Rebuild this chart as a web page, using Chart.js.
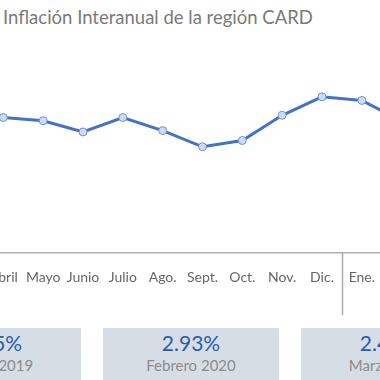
<!DOCTYPE html>
<html>
<head>
<meta charset="utf-8">
<script src="https://cdn.jsdelivr.net/npm/chart.js@4/dist/chart.umd.min.js"></script>
<style>
  html, body { margin: 0; padding: 0; background: #fff; overflow: hidden; }
  body { width: 380px; height: 380px; position: relative; font-family: Lato, "Open Sans", sans-serif; }
  #title { position: absolute; left: 3px; top: 6px; font-size: 18.5px; color: #7a7a7a; white-space: nowrap; }
  #c { position: absolute; left: -72px; top: 0; }
  .box { position: absolute; top: 328px; width: 176px; height: 60px; background: #d6dde5; text-align: center; }
  .box .v { position: absolute; left: 0; right: 0; top: 2px; font-size: 21px; color: #2a5cad; }
  .box .l { position: absolute; left: 0; right: 0; top: 28px; font-size: 15px; color: #8c8c8c; }
</style>
</head>
<body>
<div id="title">Inflación Interanual de la región CARD</div>
<canvas id="c" width="549" height="320"></canvas>
<div id="boxes"></div>
<script>
const months = ["Marzo", "Abril", "Mayo", "Junio", "Julio", "Ago.", "Sept.", "Oct.", "Nov.", "Dic.", "Ene.", "Feb.", "Marzo"];
const inflation = [3.05, 3.01, 2.94, 2.69, 3.01, 2.72, 2.36, 2.50, 3.06, 3.47, 3.39, 2.93, 2.45];
const boxValues = ["3.05%", "2.93%", "2.45%"];
const boxLabels = ["Marzo 2019", "Febrero 2020", "Marzo 2020"];
const yearBreakAfter = 9; // index of "Dic."

const boxLefts = [-95, 103, 301];
const boxesEl = document.getElementById('boxes');
boxValues.forEach((v, i) => {
  const d = document.createElement('div');
  d.className = 'box';
  d.style.left = boxLefts[i] + 'px';
  d.innerHTML = '<div class="v"></div><div class="l"></div>';
  d.querySelector('.v').textContent = v;
  d.querySelector('.l').textContent = boxLabels[i];
  boxesEl.appendChild(d);
});

const separator = {
  id: 'separator',
  afterDraw(chart) {
    const x = chart.scales.x;
    const px = (x.getPixelForValue(yearBreakAfter) + x.getPixelForValue(yearBreakAfter + 1)) / 2;
    const ctx = chart.ctx;
    ctx.save();
    ctx.strokeStyle = '#ababab';
    ctx.lineWidth = 1.5;
    ctx.beginPath();
    ctx.moveTo(Math.round(px) + 0.5, chart.chartArea.bottom);
    ctx.lineTo(Math.round(px) + 0.5, 315);
    ctx.stroke();
    ctx.restore();
  }
};

new Chart(document.getElementById('c'), {
  type: 'line',
  data: {
    labels: months,
    datasets: [{
      data: inflation,
      borderColor: '#4472c4',
      borderWidth: 3,
      pointRadius: 4,
      pointBackgroundColor: '#cfdaf0',
      pointBorderColor: '#6f93d4',
      pointBorderWidth: 1,
      tension: 0
    }]
  },
  options: {
    responsive: false,
    animation: false,
    layout: { padding: { left: 35, right: 35, top: 28, bottom: 0 } },
    plugins: { legend: { display: false }, tooltip: { enabled: false } },
    scales: {
      x: {
        offset: false,
        grid: { display: false, drawTicks: false },
        border: { display: true, color: '#b0b0b0', width: 1.5 },
        ticks: {
          autoSkip: false, maxRotation: 0, padding: 16,
          color: '#666', font: { family: 'Lato', size: 14 }
        },
        afterFit(scale) { scale.height = 67; }
      },
      y: { display: false, min: 0, max: 5 }
    }
  },
  plugins: [separator]
});
</script>
</body>
</html>
